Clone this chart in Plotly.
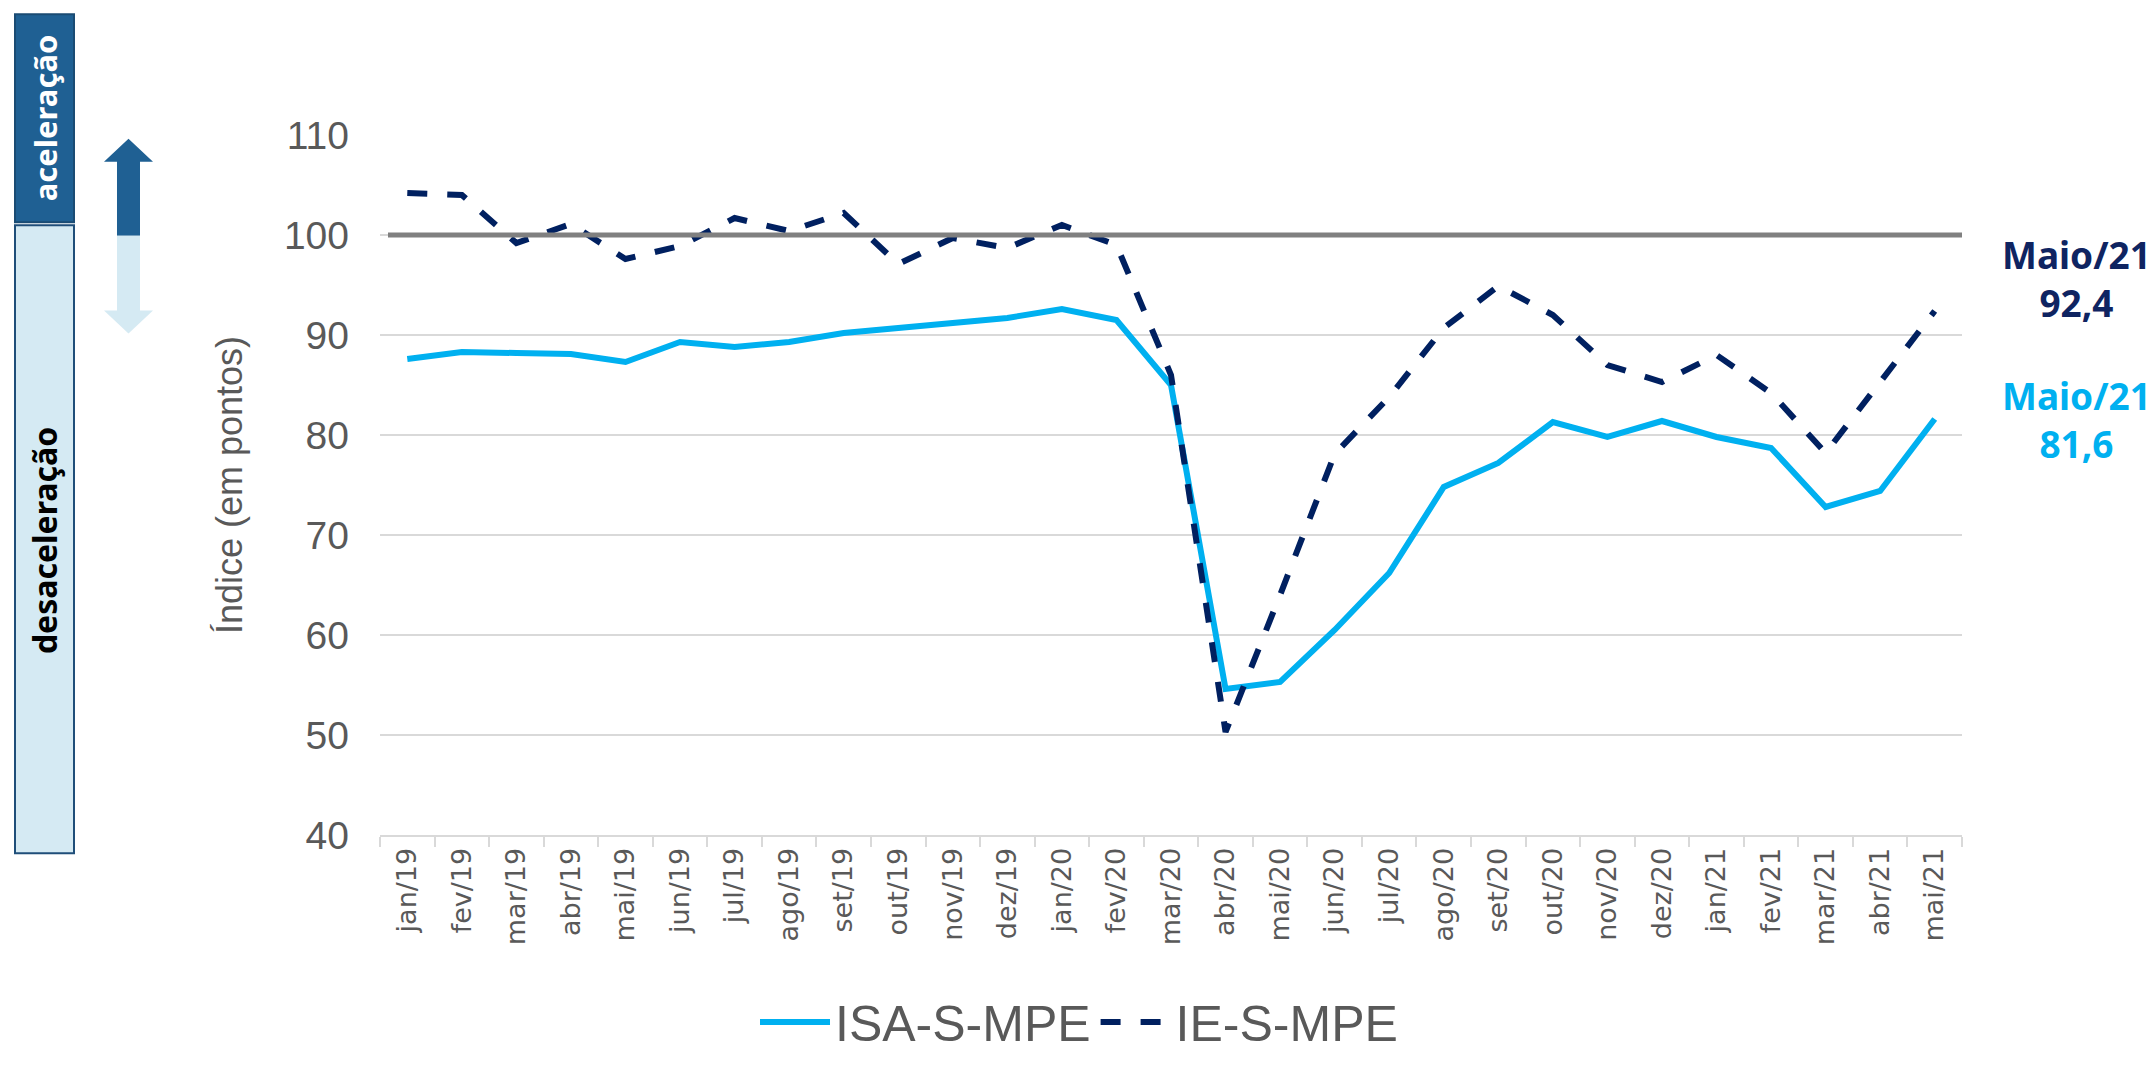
import plotly.graph_objects as go

meses = ["jan/19", "fev/19", "mar/19", "abr/19", "mai/19", "jun/19", "jul/19", "ago/19",
         "set/19", "out/19", "nov/19", "dez/19", "jan/20", "fev/20", "mar/20", "abr/20",
         "mai/20", "jun/20", "jul/20", "ago/20", "set/20", "out/20", "nov/20", "dez/20",
         "jan/21", "fev/21", "mar/21", "abr/21", "mai/21"]

isa_s_mpe = [87.6, 88.3, 88.2, 88.1, 87.3, 89.3, 88.8, 89.3, 90.2, 90.7, 91.1, 91.7, 92.6, 91.5,
             85.0, 54.6, 55.3, 60.5, 66.2, 74.8, 77.2, 81.3, 79.8, 81.4, 79.8, 78.7, 72.8, 74.4, 81.6]

ie_s_mpe = [104.2, 104.0, 99.2, 101.1, 97.6, 98.9, 101.7, 100.4, 102.2, 97.1, 99.7, 98.7, 101.0, 99.0,
            86.0, 50.3, 64.0, 78.1, 83.8, 90.7, 94.9, 92.0, 87.0, 85.3, 88.0, 84.2, 78.2, 85.2, 92.4]

yticks = [40, 50, 60, 70, 80, 90, 100, 110]
referencia = 100
rotulo_ie = "Maio/21<br>92,4"
rotulo_isa = "Maio/21<br>81,6"

W, H = 2156, 1073
L, R, T, B = 380, 194, 135, 208
PW, PH = W - L - R, H - T - B


def px(x):
    return (x - L) / PW


def py(y):
    return (H - B - y) / PH


DARK = "#1F6093"
LIGHT = "#D5EAF3"
NAVY = "#0F2461"
CYAN = "#00B0F0"
GREY = "#595959"

fig = go.Figure()
fig.add_trace(go.Scatter(x=meses, y=isa_s_mpe, name="ISA-S-MPE", mode="lines",
                         line=dict(color=CYAN, width=6)))
fig.add_trace(go.Scatter(x=meses, y=ie_s_mpe, name="IE-S-MPE", mode="lines",
                         line=dict(color="#002060", width=6, dash="20px,20px")))

shapes = []
shapes.append(dict(type="line", xref="paper", yref="y", x0=px(388), x1=1, y0=referencia, y1=referencia,
                   line=dict(color="#808080", width=5), layer="above"))
shapes.append(dict(type="rect", xref="paper", yref="paper", x0=px(15), x1=px(74), y0=py(226), y1=py(9),
                   fillcolor=DARK, line=dict(color="#1A4B73", width=2)))
shapes.append(dict(type="rect", xref="paper", yref="paper", x0=px(15), x1=px(74), y0=py(884), y1=py(229),
                   fillcolor=LIGHT, line=dict(color="#1F4E79", width=2)))


def path(points):
    return "M " + " L ".join(f"{px(a):.5f},{py(b):.5f}" for a, b in points) + " Z"


shapes.append(dict(type="path", xref="paper", yref="paper",
                   path=path([(128.5, 139), (153, 163), (140, 163), (140, 240), (117, 240), (117, 163), (104, 163)]),
                   fillcolor=DARK, line=dict(width=0)))
shapes.append(dict(type="path", xref="paper", yref="paper",
                   path=path([(117, 240), (140, 240), (140, 318), (153, 318), (128.5, 342), (104, 318), (117, 318)]),
                   fillcolor=LIGHT, line=dict(width=0)))

annotations = [
    dict(text="<b>aceleração</b>", xref="paper", yref="paper", x=px(44.5), y=py(117), showarrow=False,
         textangle=-90, font=dict(family="Noto Sans", size=31, color="white"), xanchor="center", yanchor="middle"),
    dict(text="<b>desaceleração</b>", xref="paper", yref="paper", x=px(44.5), y=py(558), showarrow=False,
         textangle=-90, font=dict(family="Noto Sans", size=32, color="black"), xanchor="center", yanchor="middle"),
    dict(text=f"<b>{rotulo_ie}</b>", xref="paper", yref="paper", x=px(2076), y=py(285),
         showarrow=False, font=dict(family="Noto Sans", size=37, color=NAVY),
         xanchor="center", yanchor="middle", align="center"),
    dict(text=f"<b>{rotulo_isa}</b>", xref="paper", yref="paper", x=px(2076), y=py(432),
         showarrow=False, font=dict(family="Noto Sans", size=37, color=CYAN),
         xanchor="center", yanchor="middle", align="center"),
]

fig.update_layout(
    width=W, height=H, autosize=False,
    margin=dict(l=L, r=R, t=T, b=B),
    paper_bgcolor="white", plot_bgcolor="white",
    shapes=shapes, annotations=annotations,
    showlegend=True,
    legend=dict(orientation="h", x=px(755), xanchor="left", y=py(1060), yanchor="middle",
                font=dict(family="Liberation Sans, Arial", size=50, color=GREY),
                itemwidth=70, bgcolor="rgba(0,0,0,0)"),
    xaxis=dict(type="category", range=[-0.5, len(meses) - 0.5], tickson="boundaries",
               ticks="outside", ticklen=10, tickcolor="#D9D9D9", tickwidth=2,
               showline=True, linecolor="#D9D9D9", linewidth=2, showgrid=False,
               tickangle=-90, tickfont=dict(family="DejaVu Sans", size=27, color=GREY)),
    yaxis=dict(range=[40, 110], tickvals=yticks, showgrid=True, gridcolor="#D9D9D9", gridwidth=2,
               zeroline=False, showline=False, ticks="", ticklabelstandoff=30,
               tickfont=dict(family="Liberation Sans, Arial", size=39, color=GREY),
               title=dict(text="Índice (em pontos)", standoff=30,
                          font=dict(family="Liberation Sans, Arial", size=36, color=GREY))),
)

fig.write_html("out.html", config={"displayModeBar": False},
               post_script="document.body.style.margin='0';document.body.style.overflow='hidden';"
                           "document.documentElement.style.overflow='hidden';")
